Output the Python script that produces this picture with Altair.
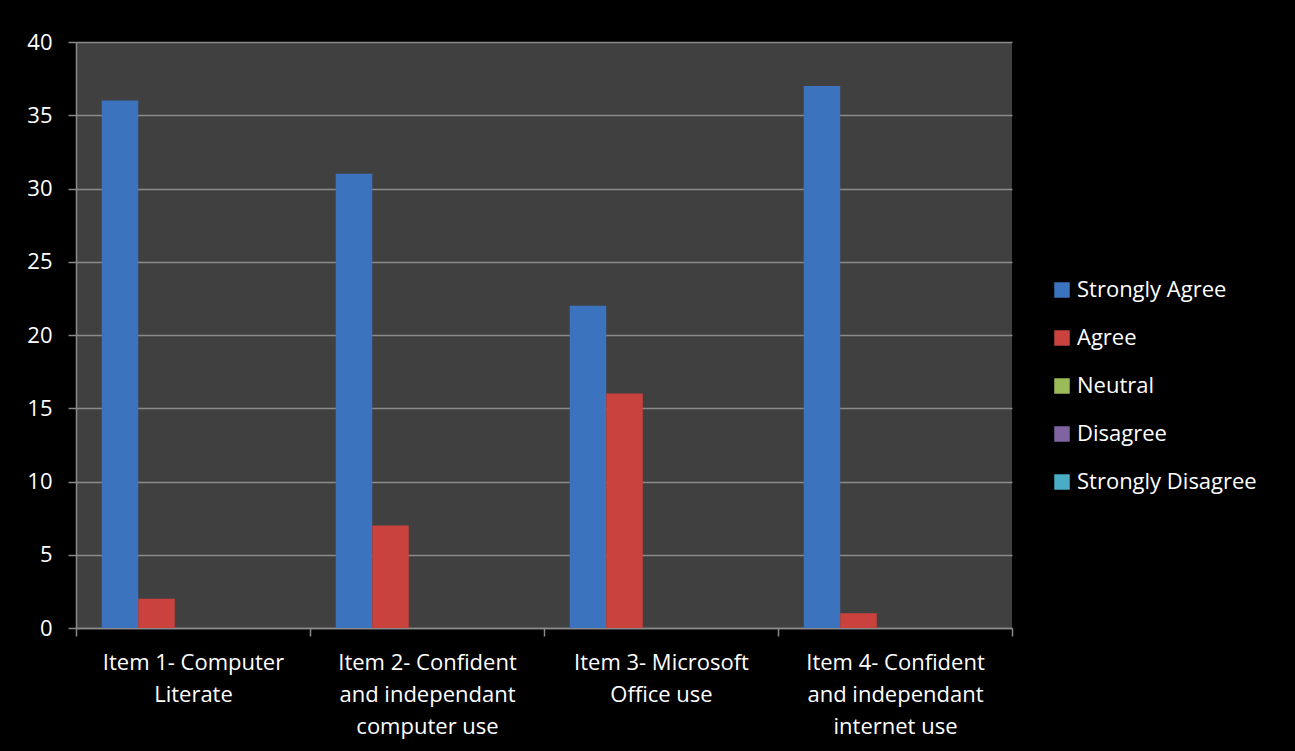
import altair as alt
import pandas as pd

categories = [
    ["Item 1- Computer", "Literate"],
    ["Item 2- Confident", "and independant", "computer use"],
    ["Item 3- Microsoft", "Office use"],
    ["Item 4- Confident", "and independant", "internet use"],
]
series = ["Strongly Agree", "Agree", "Neutral", "Disagree", "Strongly Disagree"]
strongly_agree = [36, 31, 22, 37]
agree = [2, 7, 16, 1]
neutral = [0, 0, 0, 0]
disagree = [0, 0, 0, 0]
strongly_disagree = [0, 0, 0, 0]
colors = ["#3C73BF", "#C9423E", "#9BBB59", "#8064A2", "#4BACC6"]

values = [strongly_agree, agree, neutral, disagree, strongly_disagree]
cat_labels = ["|".join(c) for c in categories]
rows = []
for s, vals in zip(series, values):
    for c, v in zip(cat_labels, vals):
        rows.append({"item": c, "series": s, "value": v})
df = pd.DataFrame(rows)

FONT = "Open Sans"
FS = 22

chart = alt.Chart(df).mark_bar().encode(
    x=alt.X("item:N", sort=cat_labels, title=None,
            scale=alt.Scale(paddingInner=0, paddingOuter=0),
            axis=alt.Axis(labelExpr="split(datum.label, '|')", labelAngle=0,
                          tickBand="extent", tickSize=8, tickColor="#8a8a8a",
                          domainColor="#8a8a8a", domainWidth=1.5, tickWidth=1.5,
                          labelColor="white", labelFontSize=FS, labelFont=FONT,
                          labelLineHeight=32, labelPadding=16, labelLimit=0,
                          grid=False)),
    xOffset=alt.XOffset("series:N", sort=series,
                        scale=alt.Scale(paddingInner=0, paddingOuter=0.705)),
    y=alt.Y("value:Q", title=None,
            scale=alt.Scale(domain=[0, 40], nice=False),
            axis=alt.Axis(values=list(range(0, 41, 5)), tickSize=8,
                          tickColor="#8a8a8a", tickWidth=1.5,
                          domainColor="#8a8a8a", domainWidth=1.5,
                          gridColor="#8a8a8a", gridWidth=1.5,
                          labelColor="white", labelFontSize=FS, labelFont=FONT,
                          labelPadding=16)),
    color=alt.Color("series:N", sort=series,
                    scale=alt.Scale(domain=series, range=colors),
                    legend=alt.Legend(title=None, orient="none",
                                      legendX=975, legendY=237,
                                      symbolType="square", symbolSize=240,
                                      symbolStrokeWidth=0,
                                      labelColor="white", labelFontSize=FS,
                                      labelFont=FONT, labelOffset=4,
                                      labelLimit=0, rowPadding=26)),
).properties(
    width=936,
    height=586,
    background="black",
    autosize=alt.AutoSizeParams(type="none"),
    padding={"left": 76, "top": 42, "right": 283, "bottom": 123},
).configure_view(fill="#404040", stroke=None)

chart.save("out.html", embed_options={"renderer": "svg", "actions": False})
